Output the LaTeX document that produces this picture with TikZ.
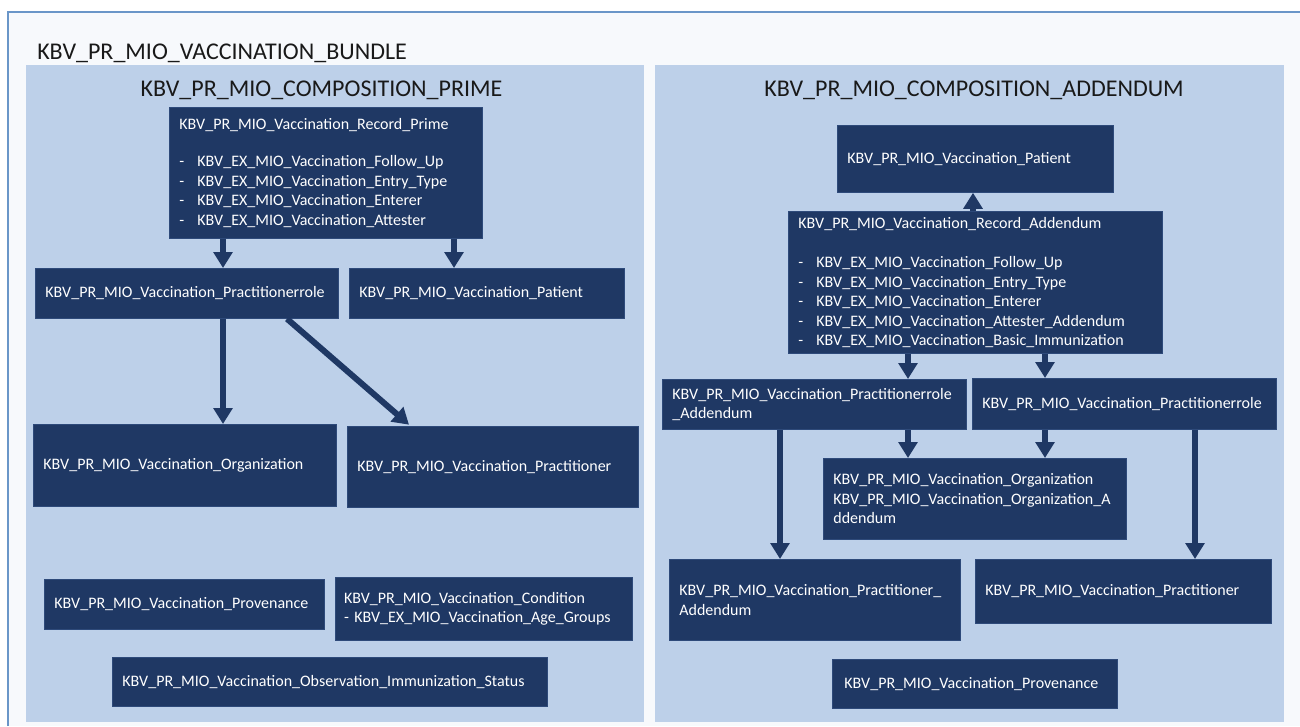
\documentclass[tikz,border=0pt]{standalone}
\usepackage{fontspec}
\setmainfont{Carlito}
\usetikzlibrary{arrows.meta}
\definecolor{boxfill}{HTML}{1F3864}
\definecolor{boxline}{HTML}{2E4A7A}
\definecolor{panelfill}{HTML}{BDD0E9}
\definecolor{framefill}{HTML}{F7F9FC}
\definecolor{frameline}{HTML}{6A96C8}
\newcommand{\boxfont}{\fontsize{12pt}{14.6pt}\selectfont}
\newcommand{\itm}[1]{\makebox[13.5pt][l]{-}#1}
\begin{document}
\begin{tikzpicture}[x=0.75pt,y=-0.75pt,
  bx/.style={draw=boxline, line width=0.6pt, fill=boxfill, text=white, anchor=north west,
    inner xsep=7.5pt, inner ysep=0pt, align=left, font=\boxfont},
  ttl/.style={font=\fontsize{18pt}{22pt}\selectfont, text=black!90, inner sep=0pt},
  arr/.style={draw=boxfill, line width=4.5pt, -{Triangle[length=12pt,width=14pt]}}]
\useasboundingbox (0,0) rectangle (1300,726);
\fill[white] (0,0) rectangle (1300,726);
\fill[framefill] (8,12) rectangle (1300,726);
\draw[frameline, line width=0.9pt] (8,726) -- (8,12) -- (1300,12);
\fill[panelfill] (26,65) rectangle (644,722);
\fill[panelfill] (655,65) rectangle (1284,722);

\node[ttl, anchor=base west] (tb) at (37,59) {KBV\_PR\_MIO\_VACCINATION\_BUNDLE};
\node[ttl, anchor=base] (tp) at (321.5,96) {KBV\_PR\_MIO\_COMPOSITION\_PRIME};
\node[ttl, anchor=base] (ta) at (974,96) {KBV\_PR\_MIO\_COMPOSITION\_ADDENDUM};

% left panel
\node[bx, text width=219.75pt, minimum height=98.25pt] (recP) at (169,107)
  {KBV\_PR\_MIO\_Vaccination\_Record\_Prime\\[13.5pt]
   \itm{KBV\_EX\_MIO\_Vaccination\_Follow\_Up}\\
   \itm{KBV\_EX\_MIO\_Vaccination\_Entry\_Type}\\
   \itm{KBV\_EX\_MIO\_Vaccination\_Enterer}\\
   \itm{KBV\_EX\_MIO\_Vaccination\_Attester}};
\node[bx, text width=212.25pt, minimum height=37.5pt] (prL) at (35,268) {KBV\_PR\_MIO\_Vaccination\_Practitionerrole};
\node[bx, text width=191.25pt, minimum height=37.5pt] (patL) at (349,268) {KBV\_PR\_MIO\_Vaccination\_Patient};
\node[bx, text width=212.25pt, minimum height=61.5pt] (orgL) at (33,424) {KBV\_PR\_MIO\_Vaccination\_Organization};
\node[bx, text width=203.25pt, minimum height=60.75pt] (praL) at (347,426) {KBV\_PR\_MIO\_Vaccination\_Practitioner};
\node[bx, text width=195pt, minimum height=37.5pt] (provL) at (44,579) {KBV\_PR\_MIO\_Vaccination\_Provenance};
\node[bx, inner xsep=6.5pt, text width=209.75pt, minimum height=47.25pt] (condL) at (335,577) {KBV\_PR\_MIO\_Vaccination\_Condition\\- KBV\_EX\_MIO\_Vaccination\_Age\_Groups};
\node[bx, text width=311.25pt, minimum height=36.75pt] (obsL) at (112,657) {KBV\_PR\_MIO\_Vaccination\_Observation\_Immunization\_Status};

% right panel
\node[bx, text width=192pt, minimum height=50.25pt] (patR) at (837,125) {KBV\_PR\_MIO\_Vaccination\_Patient};
\node[bx, text width=265.5pt, minimum height=106.5pt] (recA) at (788,211)
  {KBV\_PR\_MIO\_Vaccination\_Record\_Addendum\\[15pt]
   \itm{KBV\_EX\_MIO\_Vaccination\_Follow\_Up}\\
   \itm{KBV\_EX\_MIO\_Vaccination\_Entry\_Type}\\
   \itm{KBV\_EX\_MIO\_Vaccination\_Enterer}\\
   \itm{KBV\_EX\_MIO\_Vaccination\_Attester\_Addendum}\\
   \itm{KBV\_EX\_MIO\_Vaccination\_Basic\_Immunization}};
\node[bx, text width=213pt, minimum height=37.5pt] (prA) at (662,379) {KBV\_PR\_MIO\_Vaccination\_Practitionerrole\\\_Addendum};
\node[bx, text width=213pt, minimum height=38.25pt] (prR) at (972,378) {KBV\_PR\_MIO\_Vaccination\_Practitionerrole};
\node[bx, text width=212.25pt, minimum height=60.75pt] (orgR) at (823,458) {KBV\_PR\_MIO\_Vaccination\_Organization\\KBV\_PR\_MIO\_Vaccination\_Organization\_A\\ddendum};
\node[bx, text width=203.25pt, minimum height=60.75pt] (praA) at (669,559) {KBV\_PR\_MIO\_Vaccination\_Practitioner\_\\Addendum};
\node[bx, text width=207pt, minimum height=48pt] (praR) at (975,559) {KBV\_PR\_MIO\_Vaccination\_Practitioner};
\node[bx, inner xsep=9pt, text width=195.75pt, minimum height=36.75pt] (provR) at (832,659) {KBV\_PR\_MIO\_Vaccination\_Provenance};

% helper x positions
\coordinate (x223) at (223,0);
\coordinate (x454) at (454,0);
\coordinate (x287) at (287,0);
\coordinate (x409) at (409,0);
\coordinate (x973) at (973,0);
\coordinate (x908) at (908,0);
\coordinate (x1045) at (1045,0);
\coordinate (x780) at (780,0);
\coordinate (x1195) at (1195,0);

% left arrows
\draw[arr] (recP.south -| x223) -- (prL.north -| x223);
\draw[arr] (recP.south -| x454) -- (patL.north -| x454);
\draw[arr] (prL.south -| x223) -- (orgL.north -| x223);
\draw[arr] (prL.south -| x287) -- ([yshift=1pt]praL.north -| x409);

% right arrows
\draw[arr] (recA.north -| x973) -- (patR.south -| x973);
\draw[arr] (recA.south -| x908) -- (prA.north -| x908);
\draw[arr] (recA.south -| x1045) -- (prR.north -| x1045);
\draw[arr] (prA.south -| x908) -- (orgR.north -| x908);
\draw[arr] (prR.south -| x1045) -- (orgR.north -| x1045);
\draw[arr] (prA.south -| x780) -- (praA.north -| x780);
\draw[arr] (prR.south -| x1195) -- (praR.north -| x1195);
\end{tikzpicture}
\end{document}
